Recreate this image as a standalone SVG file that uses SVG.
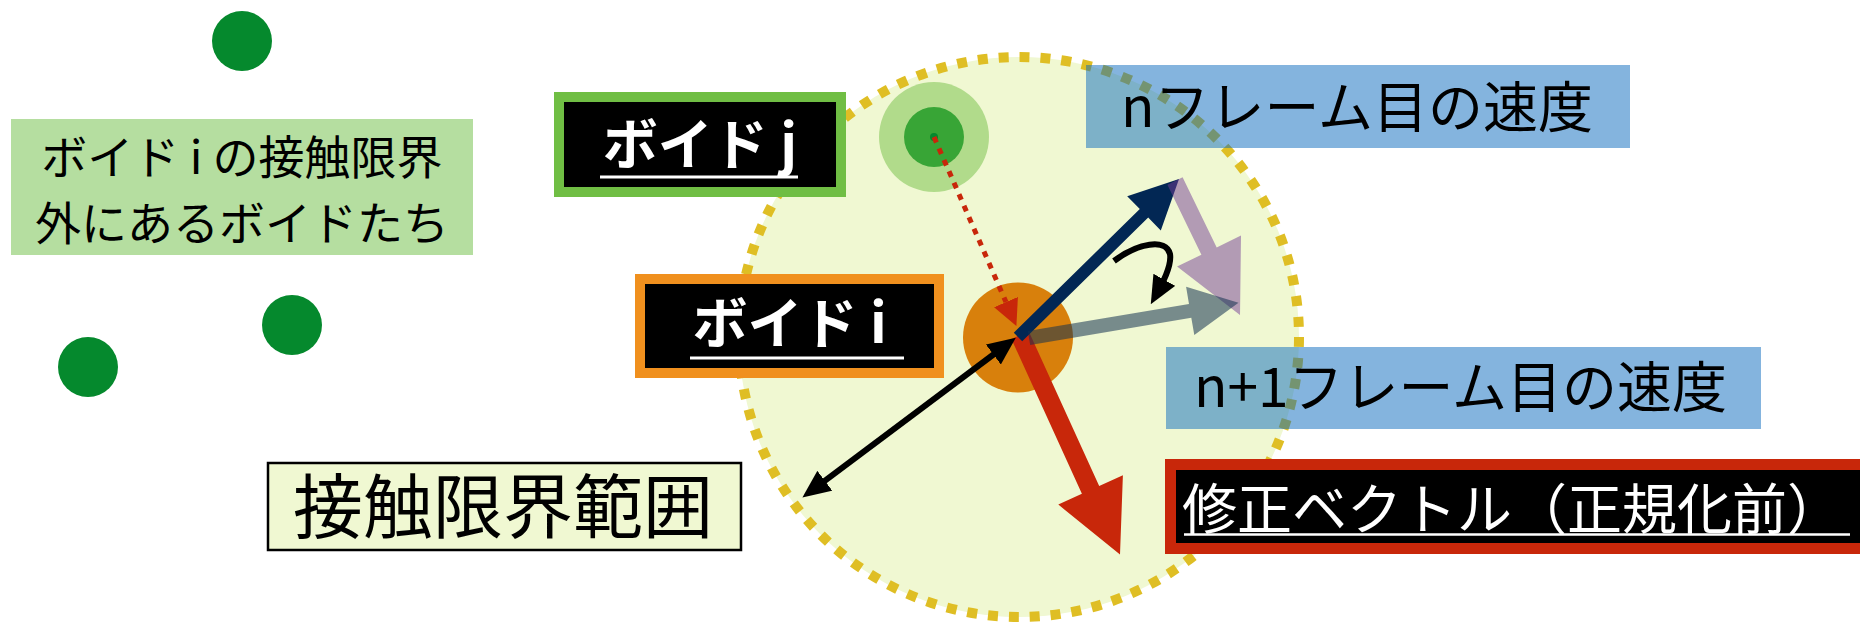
<svg xmlns="http://www.w3.org/2000/svg" width="1860" height="624" viewBox="0 0 1860 624">
  <style>
    .jp { font-family: "Noto Sans CJK JP", "Noto Sans", sans-serif; }
    .boid { fill: #05892D; }
    .label { fill: #000; stroke-width: 10; }
    .lbltxt { fill: #fff; font-weight: bold; font-size: 55px; text-anchor: middle; }
    .uline { stroke: #fff; stroke-width: 3; }
    .blue { fill: #0969BD; fill-opacity: 0.5; }
    .bluetxt { fill: #000; font-size: 55px; }
    .blk { stroke: #000; stroke-width: 6; fill: none; }
  </style>
  <defs>
    <marker id="bh" markerUnits="userSpaceOnUse" markerWidth="28" markerHeight="26" refX="17" refY="12" orient="auto-start-reverse" viewBox="0 0 27 24">
      <path d="M0,0 L27,12 L0,24 Z" fill="#000"/>
    </marker>
    <marker id="rh" markerUnits="userSpaceOnUse" markerWidth="26" markerHeight="26" refX="0" refY="12.5" orient="auto" viewBox="0 0 25 25">
      <path d="M0,0 L25,12.5 L0,25 Z" fill="#C8270A"/>
    </marker>
  </defs>

  <g id="outside-boids">
    <circle class="boid" cx="242" cy="41" r="30"/>
    <circle class="boid" cx="292" cy="325" r="30"/>
    <circle class="boid" cx="88" cy="367" r="30"/>
  </g>

  <g id="outside-label">
    <rect x="11" y="119" width="462" height="136" fill="#B5DEA0"/>
    <text class="jp" x="242" y="174" font-size="46" text-anchor="middle" fill="#000">ボイド i の接触限界</text>
    <text class="jp" x="242" y="240" font-size="46" text-anchor="middle" fill="#000">外にあるボイドたち</text>
  </g>

  <g id="contact-range">
    <circle cx="1019" cy="337" r="280" fill="#F0F8D2" stroke="#DFBE24" stroke-width="10" stroke-dasharray="10 10.944"/>
  </g>

  <g id="velocity-n-label">
    <rect class="blue" x="1086" y="65" width="544" height="83"/>
    <text class="jp bluetxt" x="1121" y="127">nフレーム目の速度</text>
  </g>

  <g id="velocity-n1-label">
    <rect class="blue" x="1166" y="347" width="595" height="82"/>
    <text class="jp bluetxt" x="1194" y="407">n+1フレーム目の速度</text>
  </g>

  <g id="boid-j">
    <circle cx="934" cy="137" r="55" fill="#B1DB8B"/>
    <circle cx="934" cy="137" r="30" fill="#38A536"/>
    <circle cx="934" cy="137" r="4" fill="#05892D"/>
  </g>

  <g id="boid-i">
    <circle cx="1018" cy="337.5" r="55" fill="#D8800C"/>
  </g>

  <g id="boid-j-label">
    <rect class="label" x="559" y="97" width="282" height="95" stroke="#70BE44"/>
    <text class="jp lbltxt" x="700" y="163.5">ボイド j</text>
    <line class="uline" x1="600" y1="177" x2="798" y2="177"/>
  </g>

  <g id="boid-i-label">
    <rect class="label" x="640" y="279" width="299" height="94" stroke="#F0901E"/>
    <text class="jp lbltxt" x="789.5" y="342.5">ボイド i</text>
    <line class="uline" x1="690" y1="358" x2="904" y2="358"/>
  </g>

  <g id="correction-label">
    <rect x="1170.5" y="464.5" width="720" height="84" fill="#000" stroke="#C8270A" stroke-width="11"/>
    <text class="jp" x="1182" y="529" font-size="55" fill="#fff">修正ベクトル（正規化前）</text>
    <line x1="1184" y1="534.5" x2="1850" y2="534.5" stroke="#fff" stroke-width="2.5"/>
  </g>

  <g id="range-label">
    <rect x="268" y="463" width="473" height="87" fill="#F0F8D2" stroke="#000" stroke-width="2.5"/>
    <text class="jp" x="503" y="532.5" font-size="70" text-anchor="middle" fill="#000">接触限界範囲</text>
  </g>

  <g id="connectors">
    <line x1="934" y1="137" x2="1006" y2="302.1" stroke="#C8270A" stroke-width="5" stroke-dasharray="6 6.5" marker-end="url(#rh)"/>
    <polygon fill="#C8270A" points="1011.4,338.9 1081.9,493.8 1058.3,504.6 1120,554.5 1122.9,475.2 1099.2,486.0 1028.6,331.1"/>
    <polygon fill="#022754" points="1022.2,341.3 1148.2,217.6 1160.8,230.4 1179,179 1127.2,196.2 1139.8,209.0 1013.8,332.7"/>
    <polygon fill="#743E96" fill-opacity="0.5" points="1167.4,184.7 1201.4,254.8 1177.1,266.6 1240,315 1241.0,235.6 1216.7,247.4 1182.6,177.3"/>
    <polygon fill="#143250" fill-opacity="0.55" points="1030.2,344.9 1191.3,317.7 1194.3,335.0 1238.5,302.7 1186.1,286.7 1189.0,303.9 1027.8,331.1"/>
    <line class="blk" x1="1007.5" y1="344" x2="810.7" y2="491.3" marker-start="url(#bh)" marker-end="url(#bh)"/>
    <path class="blk" stroke-width="7" d="M1114,261 C1138,243 1166,238 1170,254 C1172,266 1162,284 1155.8,295.2" marker-end="url(#bh)"/>
  </g>
</svg>
